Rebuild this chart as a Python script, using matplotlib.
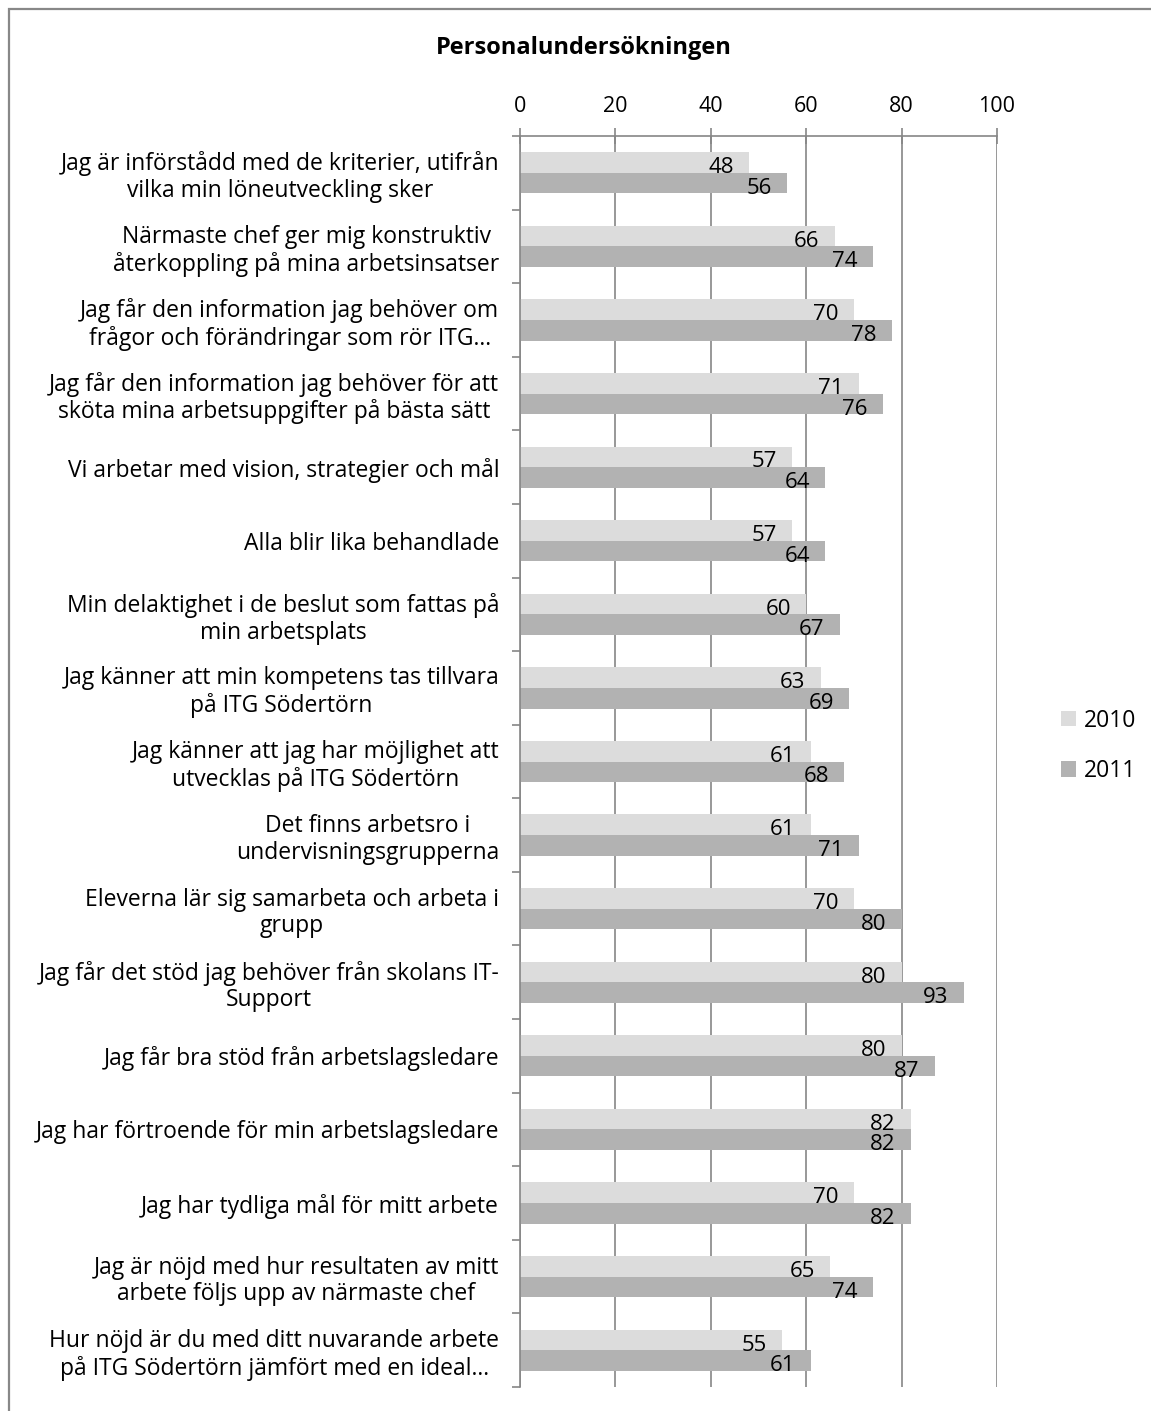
import matplotlib
matplotlib.use("Agg")
import matplotlib.pyplot as plt
import numpy as np
from matplotlib.patches import Rectangle

categories = [
    "Jag är införstådd med de kriterier, utifrån\nvilka min löneutveckling sker",
    "Närmaste chef ger mig konstruktiv\nåterkoppling på mina arbetsinsatser",
    "Jag får den information jag behöver om\nfrågor och förändringar som rör ITG…",
    "Jag får den information jag behöver för att\nsköta mina arbetsuppgifter på bästa sätt",
    "Vi arbetar med vision, strategier och mål",
    "Alla blir lika behandlade",
    "Min delaktighet i de beslut som fattas på\nmin arbetsplats",
    "Jag känner att min kompetens tas tillvara\npå ITG Södertörn",
    "Jag känner att jag har möjlighet att\nutvecklas på ITG Södertörn",
    "Det finns arbetsro i\nundervisningsgrupperna",
    "Eleverna lär sig samarbeta och arbeta i\ngrupp",
    "Jag får det stöd jag behöver från skolans IT-\nSupport",
    "Jag får bra stöd från arbetslagsledare",
    "Jag har förtroende för min arbetslagsledare",
    "Jag har tydliga mål för mitt arbete",
    "Jag är nöjd med hur resultaten av mitt\narbete följs upp av närmaste chef",
    "Hur nöjd är du med ditt nuvarande arbete\npå ITG Södertörn jämfört med en ideal…",
]
values_2010 = [48, 66, 70, 71, 57, 57, 60, 63, 61, 61, 70, 80, 80, 82, 70, 65, 55]
values_2011 = [56, 74, 78, 76, 64, 64, 67, 69, 68, 71, 80, 93, 87, 82, 82, 74, 61]
series_names = ["2010", "2011"]
x_ticks = [0, 20, 40, 60, 80, 100]

plt.rcParams['font.family'] = ['Open Sans', 'DejaVu Sans']

W, H = 1151, 1411
fig = plt.figure(figsize=(W / 100, H / 100), dpi=100)

# outer border
fig.patches.append(Rectangle((9 / W, -0.01), 1.2, 1 - 9 / H + 0.01, transform=fig.transFigure,
                             fill=False, edgecolor='#888888', linewidth=1.6))

left, right, top, bottom = 520, 997, 136, 1387
ax = fig.add_axes([left / W, 1 - bottom / H, (right - left) / W, (bottom - top) / H])

n = len(categories)
y = np.arange(n)
bh = 0.28
c2010 = '#dcdcdc'
c2011 = '#b2b2b2'
b1 = ax.barh(y - bh / 2, values_2010, height=bh, color=c2010, label=series_names[0], zorder=2)
b2 = ax.barh(y + bh / 2, values_2011, height=bh, color=c2011, label=series_names[1], zorder=2)

for bars, vals in ((b1, values_2010), (b2, values_2011)):
    for rect, v in zip(bars, vals):
        ax.annotate(str(v), xy=(v, rect.get_y() + rect.get_height() / 2 + 0.07),
                    xytext=(-11, 0), textcoords='offset points',
                    ha='right', va='center', fontsize=16, color='#000000', zorder=3)

ax.set_xlim(0, 100)
ax.set_ylim(n - 0.5, -0.5)
ax.xaxis.tick_top()
ax.set_xticks(x_ticks)
ax.set_xticklabels([str(t) for t in x_ticks], fontsize=15.5)
ax.tick_params(axis='x', direction='inout', length=12, width=1.2, color='#868686', pad=8)
ax.grid(axis='x', color='#868686', linewidth=1.2, zorder=1)

ax.set_yticks(y)
ax.set_yticklabels(categories, fontsize=16.5, multialignment='center', linespacing=1.15)
ax.tick_params(axis='y', which='major', length=0, pad=15)
ax.set_yticks(np.arange(n + 1) - 0.5, minor=True)
ax.tick_params(axis='y', which='minor', direction='out', length=6, width=1.2, color='#868686')

for s in ['right', 'bottom']:
    ax.spines[s].set_visible(False)
for s in ['top', 'left']:
    ax.spines[s].set_color('#868686')
    ax.spines[s].set_linewidth(1.2)

fig.text(584 / W, 1 - 48 / H, "Personalundersökningen", ha='center', va='center',
         fontsize=17, fontweight='bold')

leg = fig.legend(handles=[b1, b2], labels=series_names, loc='center left',
                 bbox_to_anchor=(1040 / W, 1 - 746 / H), frameon=False, fontsize=16.5,
                 handlelength=0.65, handleheight=0.65, handletextpad=0.35, labelspacing=1.15)

fig.savefig("out.png", dpi=100, facecolor='white')
